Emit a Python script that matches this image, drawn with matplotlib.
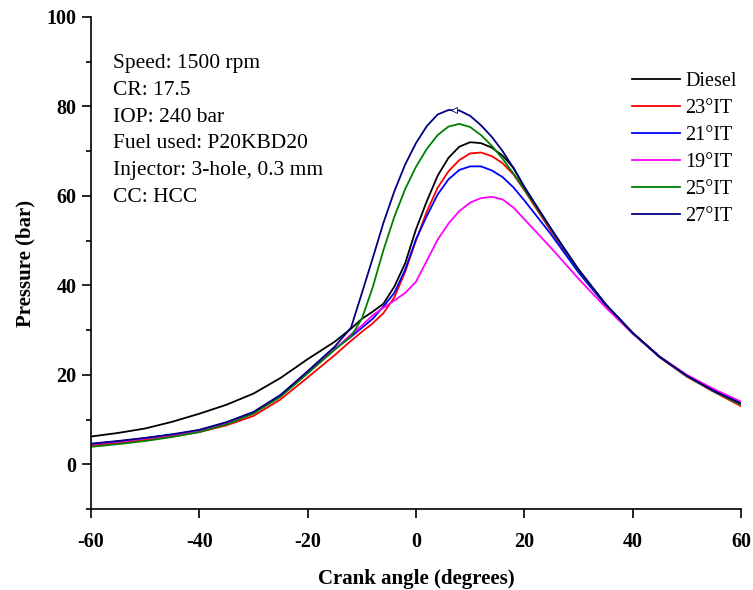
import matplotlib
matplotlib.use("Agg")
import matplotlib.pyplot as plt
from matplotlib.ticker import MultipleLocator

plt.rcParams['font.family'] = ['Liberation Serif', 'DejaVu Serif']
plt.rcParams['axes.unicode_minus'] = False

# crank angle (degrees)
crank_angle = [-60, -55, -50, -45, -40, -35, -30, -25, -20, -15, -12, -10, -8, -6, -4, -2, 0,
               2, 4, 6, 8, 10, 12, 14, 16, 18, 20, 25, 30, 35, 40, 45, 50, 55, 60]

# pressure (bar)
diesel = [6.2, 7.0, 8.0, 9.5, 11.3, 13.3, 15.8, 19.3, 23.5, 27.4, 30.3, 32.5, 34.1, 35.9, 39.7, 44.9, 52.5,
          58.8, 64.5, 68.5, 71.0, 72.0, 71.8, 70.8, 69.0, 66.3, 62.0, 52.3, 43.6, 35.8, 29.4, 24.0, 19.8, 16.3, 13.2]
it23 = [4.2, 4.7, 5.4, 6.2, 7.2, 8.7, 10.8, 14.5, 19.4, 24.4, 27.6, 29.6, 31.5, 33.8, 37.3, 43.0, 50.0,
        56.5, 61.8, 65.5, 68.0, 69.5, 69.7, 68.9, 67.3, 64.8, 61.3, 52.0, 43.2, 35.7, 29.3, 23.9, 19.6, 16.2, 13.0]
it21 = [4.5, 5.1, 5.8, 6.6, 7.6, 9.3, 11.6, 15.4, 20.6, 25.8, 28.5, 30.5, 32.5, 35.3, 38.3, 43.5, 50.3,
        55.5, 60.3, 63.7, 65.8, 66.6, 66.6, 65.7, 64.2, 61.9, 59.0, 51.3, 42.9, 35.6, 29.3, 24.0, 19.8, 16.5, 13.6]
it19 = [4.5, 5.1, 5.8, 6.6, 7.5, 9.2, 11.5, 15.3, 20.5, 25.7, 29.0, 31.0, 33.3, 35.0, 36.6, 38.3, 40.8,
        45.5, 50.2, 53.8, 56.6, 58.5, 59.5, 59.8, 59.2, 57.4, 54.8, 48.3, 41.5, 35.1, 29.2, 24.1, 20.0, 16.8, 14.0]
it25 = [3.9, 4.5, 5.2, 6.1, 7.2, 8.9, 11.3, 15.1, 20.3, 25.6, 28.6, 32.5, 39.5, 47.9, 55.3, 61.5, 66.5,
        70.5, 73.6, 75.5, 76.1, 75.4, 73.6, 71.2, 68.3, 65.0, 61.5, 52.4, 43.4, 35.8, 29.4, 24.0, 19.7, 16.3, 13.3]
it27 = [4.6, 5.2, 5.9, 6.7, 7.7, 9.4, 11.7, 15.5, 20.8, 26.3, 30.5, 38.2, 46.0, 54.0, 61.0, 67.0, 71.8,
        75.6, 78.2, 79.2, 79.1, 77.9, 75.8, 73.2, 70.0, 66.2, 62.0, 52.6, 43.5, 35.8, 29.4, 24.0, 19.8, 16.4, 13.6]

# small open marker at the peak of the 27°IT curve
peak27_angle = 7
peak27_pressure = 79.3

labels = ["Diesel", "23°IT", "21°IT", "19°IT", "25°IT", "27°IT"]
colors = ["black", "#ff0000", "#0000ff", "#ff00ff", "#008000", "#000080"]

fig = plt.figure(figsize=(7.53, 5.90), dpi=100)
ax = fig.add_subplot(111)
fig.subplots_adjust(left=0.1208, right=0.984, bottom=0.1373, top=0.9712)

for y, lab, c in zip([diesel, it23, it21, it19, it25, it27], labels, colors):
    ax.plot(crank_angle, y, color=c, lw=1.3, label=lab)

ax.plot(peak27_angle, peak27_pressure, marker='<', ms=5, mfc='white', mec='#000080', mew=0.6, ls='none')

ax.set_xlim(-60, 60)
ax.set_ylim(-10, 100)
ax.xaxis.set_major_locator(MultipleLocator(20))
ax.yaxis.set_major_locator(MultipleLocator(20))
ax.yaxis.set_minor_locator(MultipleLocator(10))

for s in ['top', 'right']:
    ax.spines[s].set_visible(False)
for s in ['left', 'bottom']:
    ax.spines[s].set_linewidth(1.2)

ax.tick_params(which='major', direction='out', length=6.5, width=1.2, labelsize=14.5, pad=4)
ax.tick_params(which='minor', direction='out', length=3.6, width=1.2)
ax.tick_params(axis='x', pad=10)
for t in ax.get_xticklabels() + ax.get_yticklabels():
    t.set_fontweight('bold')

ax.set_xlabel("Crank angle (degrees)", fontsize=15, fontweight='bold', labelpad=12)
ax.set_ylabel("Pressure (bar)", fontsize=15, fontweight='bold', labelpad=8)

ax.text(0.034, 0.925,
        "Speed: 1500 rpm\nCR: 17.5\nIOP: 240 bar\nFuel used: P20KBD20\nInjector: 3-hole, 0.3 mm\nCC: HCC",
        transform=ax.transAxes, fontsize=15.5, va='top', ha='left', linespacing=1.56)

ax.legend(loc='upper left', bbox_to_anchor=(0.832, 0.889), frameon=False, fontsize=14.5,
          handlelength=2.4, handletextpad=0.25, labelspacing=0.4, borderpad=0, borderaxespad=0)

fig.savefig("out.png", dpi=100)
